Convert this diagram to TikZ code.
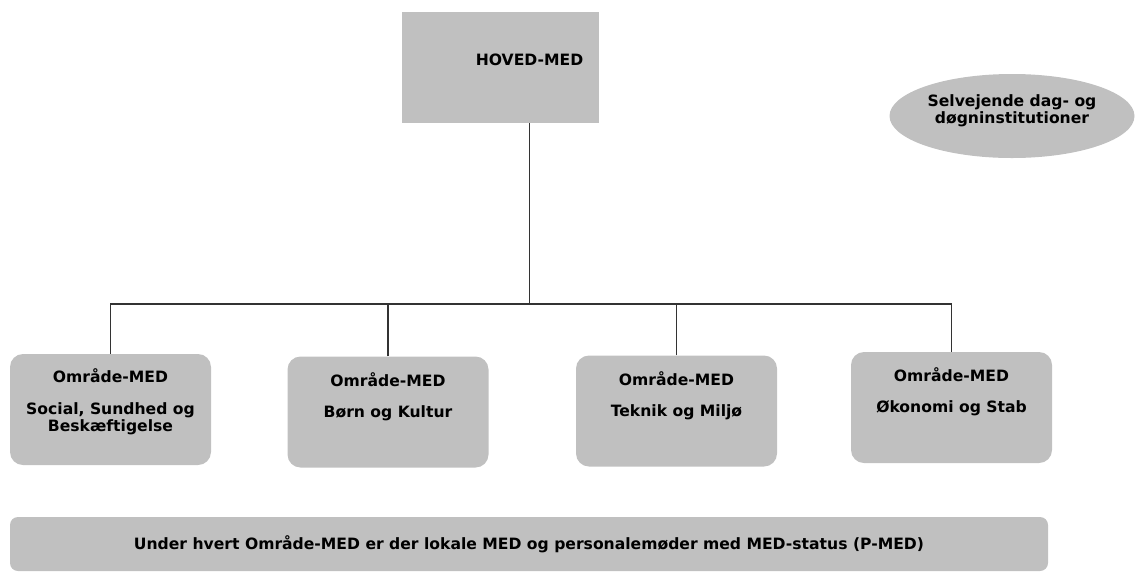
\documentclass[tikz,border=0pt]{standalone}
\usepackage{fontspec}
\setmainfont{DejaVu Sans}
\usetikzlibrary{shapes.geometric}
\definecolor{boxgray}{HTML}{C0C0C0}
\definecolor{linegray}{HTML}{333333}
\begin{document}
\begin{tikzpicture}[x=1pt,y=-1pt,
  every node/.style={font=\fontsize{15.6}{17}\selectfont\bfseries, text=black},
  plainbox/.style={fill=boxgray, draw=none, inner sep=0pt},
  areabox/.style={fill=boxgray, draw=none, rounded corners=13pt, minimum width=201pt, minimum height=111pt, inner sep=0pt},
  boxtext/.style={anchor=north, align=center, inner sep=0pt},
  conn/.style={draw=linegray, line width=1.4pt}]
\useasboundingbox (0,0) rectangle (1143,574);
% top box
\node[plainbox, minimum width=197pt, minimum height=111pt] (hoved) at (500.5,67.5) {};
\node[inner sep=0pt] (hovedtxt) at (529.5,60) {HOVED-MED};
% ellipse
\node[ellipse, fill=boxgray, draw=none, minimum width=245pt, minimum height=84pt, inner sep=0pt] (selv) at (1012,116) {};
\node[align=center, inner sep=0pt] (selvtxt) at (1012,111) {Selvejende dag- og\\døgninstitutioner};
% area boxes
\node[areabox] (b1) at (110.5,409.5) {};
\node[areabox] (b2) at (388,412) {};
\node[areabox] (b3) at (676.5,411) {};
\node[areabox] (b4) at (951.5,407.5) {};
\node[boxtext] (t1) at ([yshift=-15pt]b1.north) {Område-MED\\[15pt]Social, Sundhed og\\Beskæftigelse};
\node[boxtext] (t2) at ([yshift=-16pt]b2.north) {Område-MED\\[14pt]Børn og Kultur};
\node[boxtext] (t3) at ([yshift=-16pt]b3.north) {Område-MED\\[14pt]Teknik og Miljø};
\node[boxtext] (t4) at ([yshift=-16pt]b4.north) {Område-MED\\[14pt]Økonomi og Stab};
% bottom box
\node[fill=boxgray, draw=none, rounded corners=8pt, minimum width=1038pt, minimum height=54pt, inner sep=0pt] (under) at (529,544) {Under hvert Område-MED er der lokale MED og personalemøder med MED-status (P-MED)};
% connectors
\coordinate (bus) at (529.5,304);
\draw[conn] (hovedtxt |- hoved.south) -- (bus);
\draw[conn] (b1.north) |- (bus);
\draw[conn] (b4.north) |- (bus);
\draw[conn] (b2.north) -- (b2.north |- bus);
\draw[conn] (b3.north) -- (b3.north |- bus);
\end{tikzpicture}
\end{document}
